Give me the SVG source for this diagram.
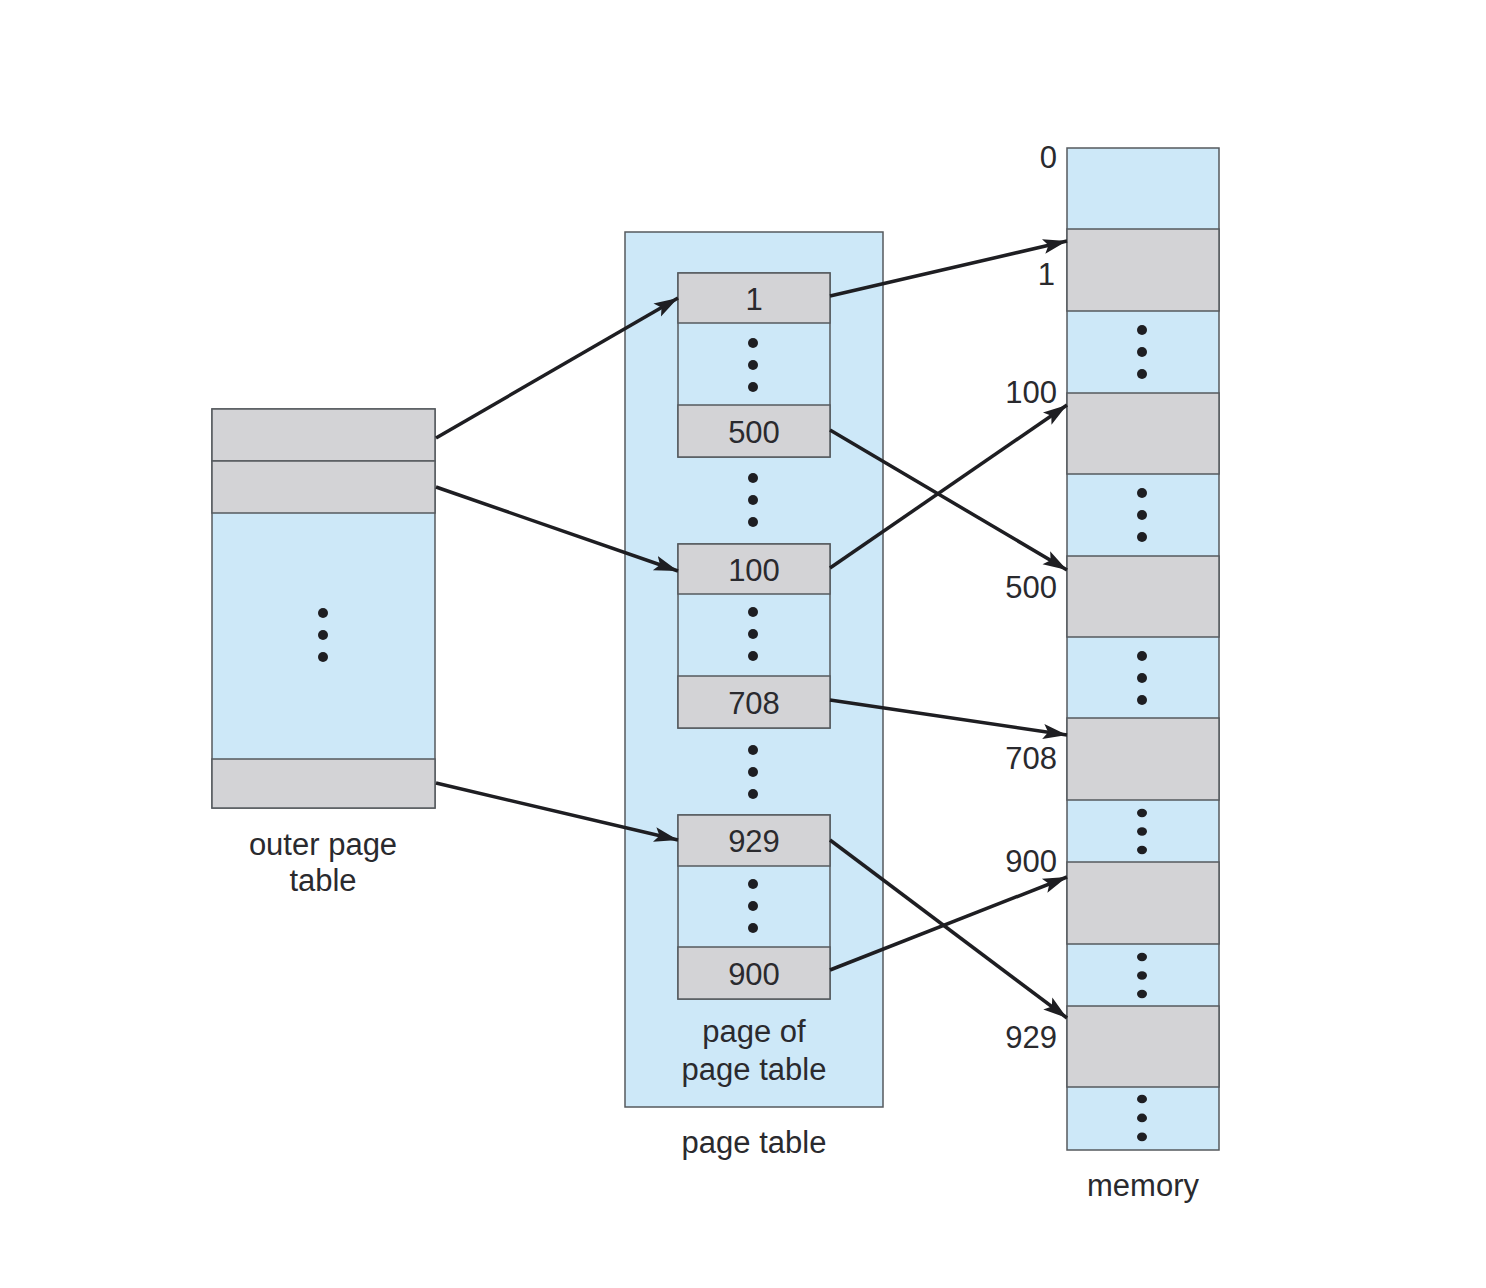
<svg xmlns="http://www.w3.org/2000/svg" width="1486" height="1288" viewBox="0 0 1486 1288">
<defs>
<style>
.b{fill:#cde8f8;stroke:#555a5e;stroke-width:1.5}
.g{fill:#d3d3d6;stroke:#555a5e;stroke-width:1.5}
.d{fill:#1e1e22}
.t{font-family:"Liberation Sans",Arial,sans-serif;font-size:31px;fill:#2a2a2e}
.c{text-anchor:middle}
.r{text-anchor:end}
.a{stroke:#1e1e22;stroke-width:3.5;fill:none;marker-end:url(#ah)}
</style>
<marker id="ah" markerUnits="userSpaceOnUse" markerWidth="26" markerHeight="18" refX="24" refY="9" orient="auto">
<path d="M0,1.5 L24,9 L0,16.5 L5,9 Z" fill="#1e1e22"/>
</marker>
<g id="dots3"><circle cx="0" cy="0" r="5"/><circle cx="0" cy="22" r="5"/><circle cx="0" cy="44" r="5"/></g>
</defs>
<rect width="1486" height="1288" fill="#ffffff"/>

<g id="outer-page-table">
<rect class="b" x="212" y="409" width="223" height="399"/>
<rect class="g" x="212" y="409" width="223" height="52"/>
<rect class="g" x="212" y="461" width="223" height="52"/>
<rect class="g" x="212" y="759" width="223" height="49"/>
<use href="#dots3" class="d" x="323" y="613"/>
<text class="t c" x="323" y="855">outer page</text>
<text class="t c" x="323" y="891">table</text>
</g>

<g id="page-table">
<rect class="b" x="625" y="232" width="258" height="875"/>
<use href="#dots3" class="d" x="753" y="478"/>
<use href="#dots3" class="d" x="753" y="750"/>
<text class="t c" x="754" y="1042">page of</text>
<text class="t c" x="754" y="1080">page table</text>
<text class="t c" x="754" y="1153">page table</text>
</g>

<g id="page-of-page-table-1">
<rect class="b" x="678" y="273" width="152" height="184"/>
<rect class="g" x="678" y="273" width="152" height="50"/>
<rect class="g" x="678" y="405" width="152" height="52"/>
<use href="#dots3" class="d" x="753" y="343"/>
<text class="t c" x="754" y="310">1</text>
<text class="t c" x="754" y="443">500</text>
</g>

<g id="page-of-page-table-2">
<rect class="b" x="678" y="544" width="152" height="184"/>
<rect class="g" x="678" y="544" width="152" height="50"/>
<rect class="g" x="678" y="676" width="152" height="52"/>
<use href="#dots3" class="d" x="753" y="612"/>
<text class="t c" x="754" y="581">100</text>
<text class="t c" x="754" y="714">708</text>
</g>

<g id="page-of-page-table-3">
<rect class="b" x="678" y="815" width="152" height="184"/>
<rect class="g" x="678" y="815" width="152" height="51"/>
<rect class="g" x="678" y="947" width="152" height="52"/>
<use href="#dots3" class="d" x="753" y="884"/>
<text class="t c" x="754" y="852">929</text>
<text class="t c" x="754" y="985">900</text>
</g>

<g id="memory">
<rect class="b" x="1067" y="148" width="152" height="1002"/>
<rect class="g" x="1067" y="229" width="152" height="82"/>
<rect class="g" x="1067" y="393" width="152" height="81"/>
<rect class="g" x="1067" y="556" width="152" height="81"/>
<rect class="g" x="1067" y="718" width="152" height="82"/>
<rect class="g" x="1067" y="862" width="152" height="82"/>
<rect class="g" x="1067" y="1006" width="152" height="81"/>
<g class="d">
<use href="#dots3" x="1142" y="330"/>
<use href="#dots3" x="1142" y="493"/>
<use href="#dots3" x="1142" y="656"/>
<g transform="translate(1142,813) scale(1,0.84)"><use href="#dots3"/></g>
<g transform="translate(1142,957) scale(1,0.84)"><use href="#dots3"/></g>
<g transform="translate(1142,1099) scale(1,0.86)"><use href="#dots3"/></g>
</g>
<text class="t r" x="1057" y="168">0</text>
<text class="t r" x="1055" y="285">1</text>
<text class="t r" x="1057" y="403">100</text>
<text class="t r" x="1057" y="598">500</text>
<text class="t r" x="1057" y="769">708</text>
<text class="t r" x="1057" y="872">900</text>
<text class="t r" x="1057" y="1048">929</text>
<text class="t c" x="1143" y="1196">memory</text>
</g>

<g id="connectors">
<line class="a" x1="436" y1="438" x2="678" y2="298"/>
<line class="a" x1="436" y1="487" x2="678" y2="571"/>
<line class="a" x1="436" y1="783" x2="678" y2="840"/>
<line class="a" x1="830" y1="296" x2="1067" y2="241"/>
<line class="a" x1="830" y1="430" x2="1067" y2="570"/>
<line class="a" x1="830" y1="568" x2="1067" y2="405"/>
<line class="a" x1="830" y1="700" x2="1067" y2="735"/>
<line class="a" x1="830" y1="840" x2="1067" y2="1018"/>
<line class="a" x1="830" y1="970" x2="1067" y2="877"/>
</g>
</svg>
